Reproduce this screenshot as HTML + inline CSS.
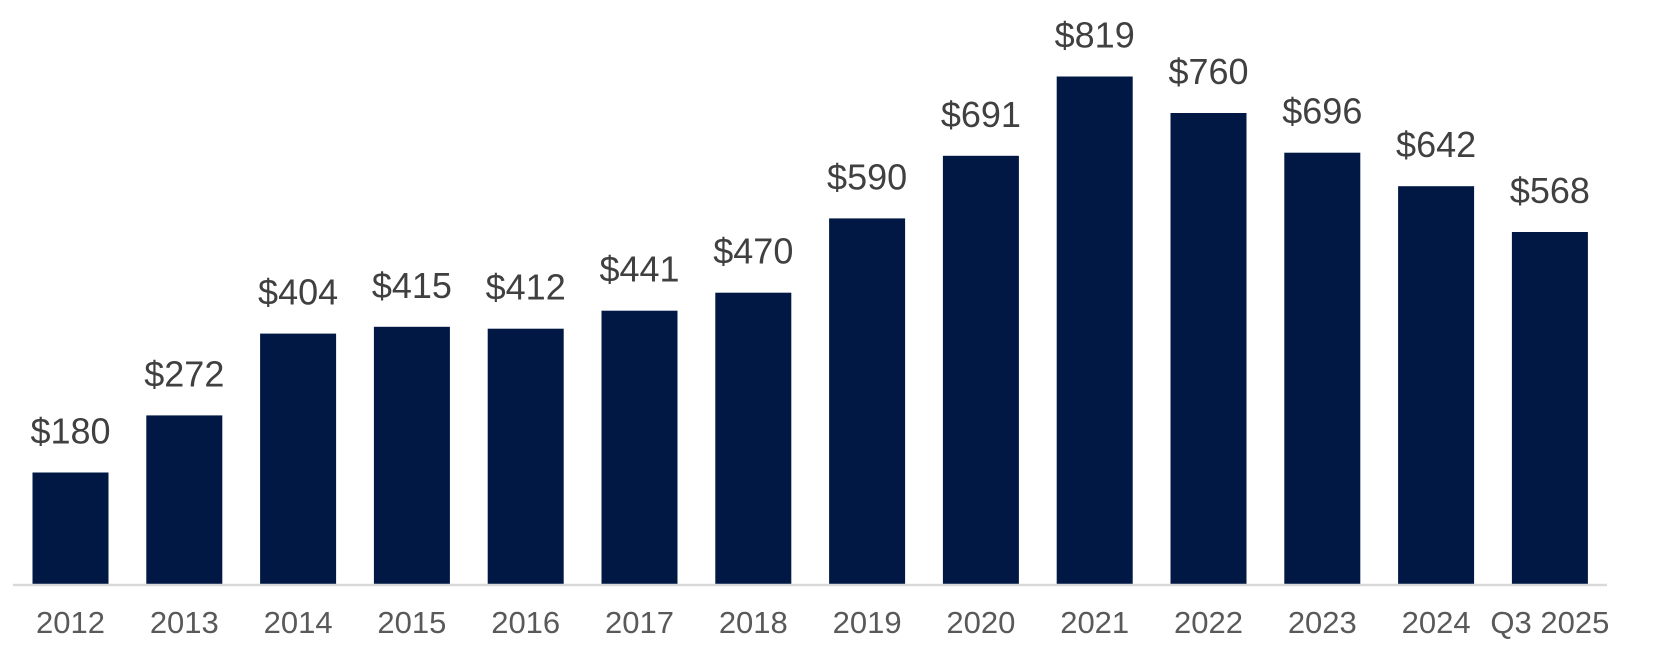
<!DOCTYPE html>
<html><head><style>
body{margin:0;background:#fff;}
svg{display:block;}
text{font-family:"Liberation Sans",Arial,sans-serif;text-anchor:middle;}
.v{font-size:36px;fill:#404040;}
.c{font-size:31px;fill:#595959;}
</style></head><body>
<svg width="1672" height="656" viewBox="0 0 1672 656">
<g fill="#001843">
<rect x="32.5" y="472.5" width="76" height="111.5"/>
<rect x="146.3" y="415.4" width="76" height="168.6"/>
<rect x="260.1" y="333.6" width="76" height="250.4"/>
<rect x="373.9" y="326.8" width="76" height="257.2"/>
<rect x="487.7" y="328.7" width="76" height="255.3"/>
<rect x="601.5" y="310.7" width="76" height="273.3"/>
<rect x="715.3" y="292.7" width="76" height="291.3"/>
<rect x="829.1" y="218.4" width="76" height="365.6"/>
<rect x="942.9" y="155.8" width="76" height="428.2"/>
<rect x="1056.7" y="76.5" width="76" height="507.5"/>
<rect x="1170.5" y="113" width="76" height="471"/>
<rect x="1284.3" y="152.7" width="76" height="431.3"/>
<rect x="1398.1" y="186.2" width="76" height="397.8"/>
<rect x="1511.9" y="232" width="76" height="352"/>
</g>
<line x1="13" y1="585" x2="1607" y2="585" stroke="#d9d9d9" stroke-width="2.5"/>
<text class="v" x="70.5" y="443.5">$180</text>
<text class="v" x="184.3" y="386.4">$272</text>
<text class="v" x="298.1" y="304.6">$404</text>
<text class="v" x="411.9" y="297.8">$415</text>
<text class="v" x="525.7" y="299.7">$412</text>
<text class="v" x="639.5" y="281.7">$441</text>
<text class="v" x="753.3" y="263.7">$470</text>
<text class="v" x="867.1" y="189.4">$590</text>
<text class="v" x="980.9" y="126.8">$691</text>
<text class="v" x="1094.7" y="47.5">$819</text>
<text class="v" x="1208.5" y="84">$760</text>
<text class="v" x="1322.3" y="123.7">$696</text>
<text class="v" x="1436.1" y="157.2">$642</text>
<text class="v" x="1549.9" y="203">$568</text>
<text class="c" x="70.5" y="633">2012</text>
<text class="c" x="184.3" y="633">2013</text>
<text class="c" x="298.1" y="633">2014</text>
<text class="c" x="411.9" y="633">2015</text>
<text class="c" x="525.7" y="633">2016</text>
<text class="c" x="639.5" y="633">2017</text>
<text class="c" x="753.3" y="633">2018</text>
<text class="c" x="867.1" y="633">2019</text>
<text class="c" x="980.9" y="633">2020</text>
<text class="c" x="1094.7" y="633">2021</text>
<text class="c" x="1208.5" y="633">2022</text>
<text class="c" x="1322.3" y="633">2023</text>
<text class="c" x="1436.1" y="633">2024</text>
<text class="c" x="1549.9" y="633">Q3 2025</text>
</svg>
</body></html>
